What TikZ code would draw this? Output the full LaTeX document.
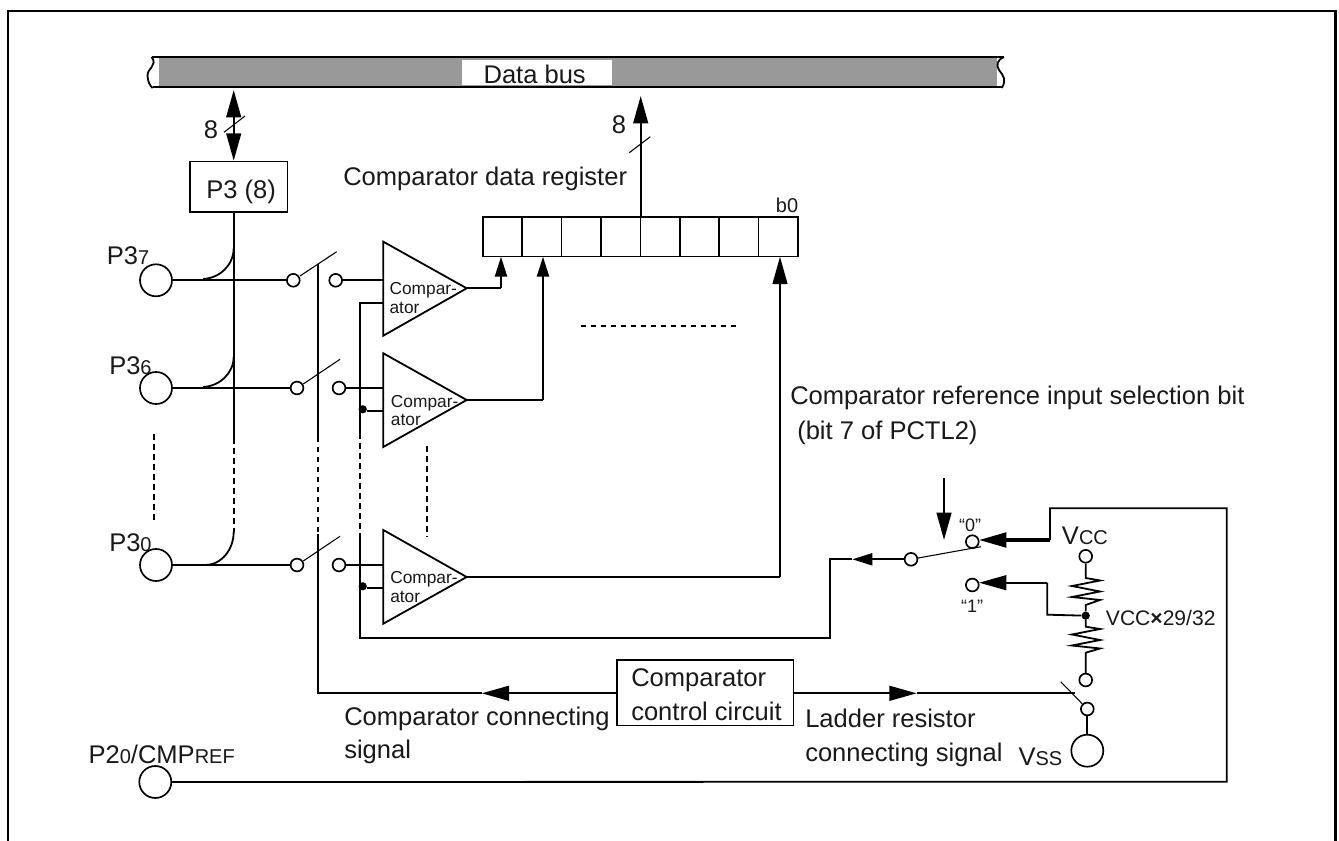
\documentclass[tikz,border=0pt]{standalone}
\usepackage{fontspec}
\setmainfont{Liberation Sans}
\usetikzlibrary{arrows.meta,calc}
\newcommand{\bigf}{\fontsize{19.15}{22}\selectfont}
\newcommand{\smf}[1]{{\fontsize{15}{16}\selectfont #1}}
\newcommand{\cmpf}{\fontsize{13}{15}\selectfont}
\newcommand{\comparator}[4]{% name, top y, bottom y, tip y
  \coordinate (#1a) at (383.3,#2);
  \coordinate (#1b) at (383.3,#3);
  \coordinate (#1) at (466.7,#4);
  \draw[wire] (#1a) -- (#1) -- (#1b) -- cycle;
}
\tikzset{
  x=0.75pt,y=-0.75pt,
  wire/.style={line width=1.35pt,line join=miter},
  thinw/.style={line width=0.8pt},
  heavy/.style={line width=1.7pt},
  dashw/.style={line width=1.35pt,dash pattern=on 4.2pt off 3.3pt},
  txt/.style={anchor=base west,inner sep=0pt,font=\bigf,text=black!90},
  pin/.style={circle,draw,line width=1.25pt,minimum size=24pt,inner sep=0pt,fill=white},
  con/.style={circle,draw,line width=1.25pt,minimum size=9.6pt,inner sep=0pt,fill=white},
  jdot/.style={circle,fill=black,minimum size=6.2pt,inner sep=0pt},
  boxn/.style={rectangle,draw,line width=1.3pt,inner sep=0pt},
  cellbox/.style={rectangle,draw,line width=1.25pt,inner sep=0pt,minimum width=29.55pt,minimum height=29.5pt,anchor=north west},
  tipL/.style={-{Triangle[length=20.5pt,width=11pt]}},
  tipM/.style={-{Triangle[length=15pt,width=9pt]}},
}
\begin{document}
\begin{tikzpicture}
\useasboundingbox (0,0) rectangle (1339,841);
\fill[white] (0,0) rectangle (1339,841);
% outer frame (open at the bottom)
\draw[line width=2.2pt] (8,841) -- (8,11) -- (1335.7,11) -- (1335.7,841);
% data bus
\fill[black!40] (159,57) rectangle (996.7,87);
\node[rectangle,fill=white,inner sep=0pt,minimum width=112.7pt,minimum height=18.7pt,anchor=north west] (busbox) at (461.7,60) {};
\node[txt] (bustext) at (483.3,83.3) {Data bus};
\draw[line width=1.7pt] (151.7,57) -- (1004,57);
\draw[line width=1.7pt] (152.7,87) -- (1001.7,87);
\draw[wire] (151.7,57) .. controls (158,66) and (147,68) .. (147.5,76) .. controls (148,82) and (150,86) .. (152.7,88);
\draw[wire] (1004,57) .. controls (997,60) and (996,65) .. (999,70) .. controls (1003,75) and (1007,80) .. (1001.7,88);
% port box
\node[boxn,minimum width=73.3pt,minimum height=38pt,anchor=north west] (p3) at (189,160.7) {};
\node[txt] (p3t) at (206,198.7) {P3 (8)};
\coordinate (p3top) at (233.7,160.7);
\coordinate (p3bot) at (233.7,211.3);
\coordinate (busL) at (233.7,90);
\draw[heavy,tipL] (233.7,125) -- (busL);
\draw[heavy,tipL] (233.7,125) -- (p3top);
\coordinate (sl1a) at (224,132.3);\coordinate (sl1b) at (245,116);
\draw[thinw] (sl1a) -- (sl1b);
\node[txt] (eight1) at (203.7,139) {8};
% port rail
\coordinate (railS) at (233.7,438);
\coordinate (railD) at (233.7,531.7);
\draw[wire] (p3bot) -- (railS);
\draw[dashw] (railS) -- (railD);
% pins, switches
\foreach \nm/\py/\ax/\ay/\bx/\by/\sa/\sb in {7/280.3/300/276/336.7/251.7/293.3/335.7,6/388/303.3/384/340/359.3/297/339,0/565/303.3/561/340/536.3/297/339}{
  \node[pin] (pin\nm) at (156,\py) {};
  \node[con] (swa\nm) at (\sa,\py) {};
  \node[con] (swb\nm) at (\sb,\py) {};
  \draw[wire] (pin\nm) -- (swa\nm);
  \coordinate (arma\nm) at (\ax,\ay);
  \coordinate (armb\nm) at (\bx,\by);
  \draw[thinw] (arma\nm) -- (armb\nm);
}
\coordinate (c7a) at (233.7,248);\coordinate (c7b) at (203.3,279);
\draw[wire] (c7a) .. controls (233.7,265) and (220,278) .. (c7b);
\coordinate (c6a) at (233.7,356.7);\coordinate (c6b) at (203.3,387);
\draw[wire] (c6a) .. controls (233.7,373) and (220,386) .. (c6b);
\coordinate (c0b) at (205,565);
\draw[wire] (railD) .. controls (233.7,549) and (222,565) .. (c0b);
\node[txt] (l7) at (106.7,265) {P3\smf{7}};
\node[txt] (l6) at (109,375) {P3\smf{6}};
\node[txt] (l0) at (109,551.7) {P3\smf{0}};
\coordinate (d1a) at (154,434);\coordinate (d1b) at (154,521.7);
\draw[dashw] (d1a) -- (d1b);
% comparators
\comparator{ca}{241.7}{335.7}{288.3}
\comparator{cb}{353.3}{447}{400}
\comparator{cc}{530}{623.7}{577}
\foreach \nm/\py in {7/280.3,6/388,0/565}{
  \coordinate (in\nm) at (383.3,\py);
  \draw[wire] (swb\nm) -- (in\nm);
}
\node[txt,font=\cmpf] (ta1) at (389.3,295) {Compar-};
\node[txt,font=\cmpf] (ta2) at (389.3,314) {ator};
\node[txt,font=\cmpf] (tb1) at (390.7,407.3) {Compar-};
\node[txt,font=\cmpf] (tb2) at (390.7,426) {ator};
\node[txt,font=\cmpf] (tc1) at (390,583.3) {Compar-};
\node[txt,font=\cmpf] (tc2) at (390,602.3) {ator};
\coordinate (d2a) at (426.7,446);\coordinate (d2b) at (426.7,536.7);
\draw[dashw] (d2a) -- (d2b);
% control line
\coordinate (ctl1) at (318.3,264);
\coordinate (ctl2) at (318.3,436.7);
\coordinate (ctl3) at (318.3,534);
\coordinate (ctl4) at (318.3,693.3);
\draw[wire] (ctl1) -- (ctl2);
\draw[dashw] (ctl2) -- (ctl3);
% reference line
\coordinate (rf0) at (383.3,303.3);
\coordinate (rf1) at (360.3,303.3);
\coordinate (rf2) at (360.3,433);
\coordinate (rf3) at (360.3,533);
\coordinate (rf4) at (360.3,637.7);
\coordinate (rf5) at (830,637.7);
\coordinate (rf6) at (830,559.3);
\draw[wire] (rf0) -- (rf1) -- (rf2);
\draw[dashw] (rf2) -- (rf3);
\draw[wire] (rf3) -- (rf4) -- (rf5) -- (rf6) -- (852,559.3);
\node[jdot] (ja) at (362.7,409.3) {};
\node[jdot] (jb) at (362.7,586.3) {};
\coordinate (jai) at (383.3,411);\coordinate (jbi) at (383.3,587.7);
\draw[wire] (ja.east |- jai) -- (jai);
\draw[wire] (jb.east |- jbi) -- (jbi);
% register
\foreach \i in {0,...,7}{
  \node[cellbox] (r\i) at ({482+39.375*\i},216.3) {};
}
\node[txt,font=\fontsize{15}{17}\selectfont,anchor=base east] (b0) at (798.5,213) {b0};
\node[txt] (regt) at (343,185.7) {Comparator data register};
\coordinate (outb) at (640.7,216.3);
\coordinate (outt) at (640.7,96);
\draw[heavy,tipL] (outb) -- (outt);
\coordinate (sl2a) at (629.3,152.7);\coordinate (sl2b) at (650.3,136.7);
\draw[thinw] (sl2a) -- (sl2b);
\node[txt] (eight2) at (611.7,134) {8};
% comparator outputs
\coordinate (tga) at (501,256.7);
\coordinate (tgb) at (543,256.7);
\coordinate (tgc) at (780,256.7);
\draw[wire] (ca) -- (501,288.3);
\draw[heavy,tipM] (501,288.3) -- (tga);
\draw[wire] (cb) -- (543,400);
\draw[heavy,tipM] (543,400) -- (tgb);
\draw[wire] (cc) -- (780,577);
\draw[heavy,tipL] (780,577) -- (tgc);
\coordinate (d3a) at (580.7,326.3);\coordinate (d3b) at (739,326.3);
\draw[dashw] (d3a) -- (d3b);
% selection
\node[txt] (sel1) at (790,405) {Comparator reference input selection bit};
\node[txt] (sel2) at (797,440) {(bit 7 of PCTL2)};
\coordinate (seltop) at (944,478);\coordinate (seltip) at (944,540);
\draw[heavy,tipL] (seltop) -- (seltip);
\node[con] (sw) at (911,559.3) {};
\node[con] (s0) at (972.3,541.7) {};
\node[con] (s1) at (972.3,585) {};
\node[txt,font=\fontsize{13.5}{15}\selectfont,anchor=center] (t0) at (970,525.7) {“0”};
\node[txt,font=\fontsize{13.5}{15}\selectfont,anchor=center] (t1) at (972,606.7) {“1”};
\coordinate (armend) at (981,546.7);
\draw[thinw] (sw) -- (armend);
\draw[wire,tipM] (sw) -- (852.3,559.3);
% reference network
\coordinate (t0a) at (979,540);
\coordinate (fb0) at (1050,540);
\draw[line width=2.4pt,tipL] (fb0) -- (t0a);
\coordinate (fb1) at (1050,508.3);
\coordinate (fb2) at (1226.7,508.3);
\coordinate (fb3) at (1226.7,781.7);
\node[pin] (p20) at (155.3,782) {};
\draw[wire] (fb0) -- (fb1) -- (fb2) -- (fb3) -- (p20);
\node[con] (vcc) at (1085.7,556.3) {};
\node[jdot] (mid) at (1085.7,615.7) {};
\node[con] (lad) at (1085.7,680) {};
\draw[wire] (vcc) -- (1085.7,578) -- (1100,580.5) -- (1072,586) -- (1100,591.5) -- (1072,597) -- (1100,600) -- (1085.7,605) -- (mid);
\draw[wire] (mid) -- (1085.7,626.7) -- (1100,629) -- (1072,634.5) -- (1100,640) -- (1072,645.5) -- (1100,648.5) -- (1085.7,652.7) -- (lad);
\coordinate (n1) at (1047.3,614.7);
\coordinate (n2) at (1047.3,582.7);
\coordinate (n3) at (979,582.7);
\draw[wire] (mid) -- (n1) -- (n2);
\draw[heavy,tipL] (n2) -- (n3);
\node[txt] (vcct) at (1061.7,544.3) {V\smf{CC}};
\node[txt,font=\fontsize{15.8}{17}\selectfont] (ratio) at (1105.7,625) {VCC\textbf{×}29/32};
% control circuit
\node[boxn,minimum width=132.5pt,minimum height=49.3pt,anchor=north west] (ctrl) at (616,659) {};
\node[txt] (ct1) at (631,686.7) {Comparator};
\node[txt] (ct2) at (631,720.7) {control circuit};
\coordinate (cl) at (616,693.3);
\coordinate (cr) at (792.7,693.3);
\coordinate (tla) at (481.7,693.3);
\coordinate (tra) at (916.7,693.3);
\coordinate (lsw) at (1075,693.3);
\draw[wire] (ctl3) -- (ctl4) -- (tla);
\draw[heavy,tipL] (cl) -- (tla);
\draw[heavy,tipL] (cr) -- (tra);
\draw[wire] (tra) -- (lsw);
\node[txt] (cs1) at (344,725) {Comparator connecting};
\node[txt] (cs2) at (344,758.3) {signal};
\node[txt] (ls1) at (805,727.7) {Ladder resistor};
\node[txt] (ls2) at (805,761.7) {connecting signal};
% ladder switch and Vss
\node[con] (swv) at (1087.3,709) {};
\node[pin] (vss) at (1087.3,750.7) {};
\coordinate (armv) at (1060.7,681.7);
\draw[thinw] (swv) -- (armv);
\draw[wire] (swv) -- (vss);
\node[txt] (vsst) at (1018.3,765) {V\smf{SS}};
\node[txt] (p20t) at (88.3,763.7) {P2\smf{0}/CMP\smf{REF}};
\end{tikzpicture}
\end{document}
